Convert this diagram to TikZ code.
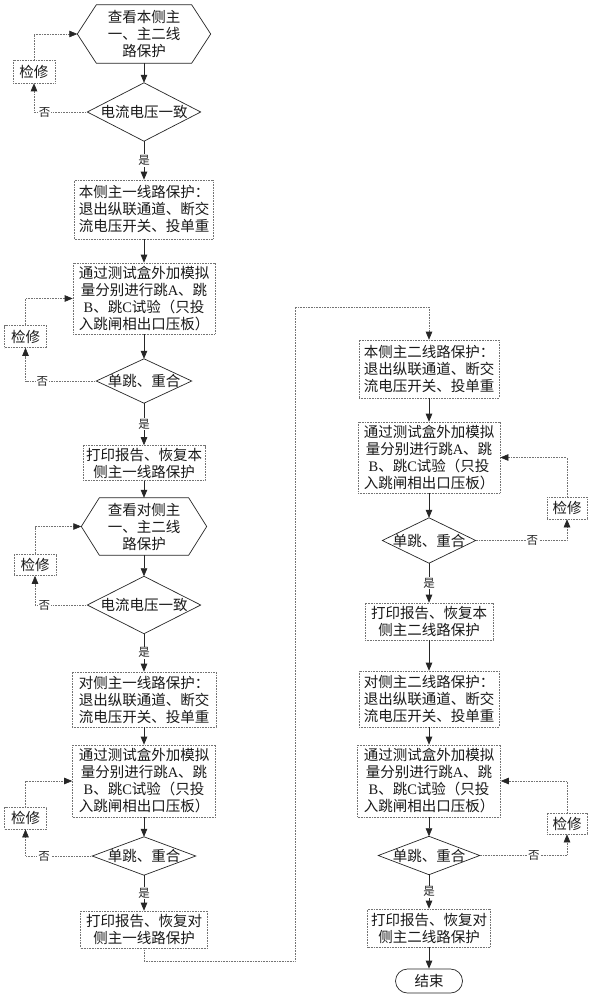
\documentclass[tikz,border=0pt]{standalone}
\usepackage{fontspec}
\setmainfont{Noto Sans CJK SC}
\newfontfamily\lat{Liberation Serif}
\usetikzlibrary{arrows.meta}
\begin{document}
\begin{tikzpicture}[x=1pt,y=-1pt,
  txt/.style={font=\fontsize{14.5pt}{17pt}\selectfont, align=center, inner sep=0pt, text=black!90},
  pbox/.style={txt, draw=black!55, line width=0.6pt, dash pattern=on 0.8pt off 0.8pt},
  shp/.style={txt},
  shapeline/.style={draw=black!85, line width=0.7pt},
  arr/.style={-{Triangle[length=8pt,width=6.5pt]}, black!85, line width=0.7pt},
  loopl/.style={black!55, line width=0.6pt, dash pattern=on 0.8pt off 0.8pt},
  loopa/.style={loopl, -{Triangle[length=8pt,width=6.5pt,color=black!85,fill=black!85]}},
  lab/.style={font=\fontsize{11.5pt}{12pt}\selectfont, fill=white, inner sep=1pt, text=black!85}
]
\useasboundingbox (0,0) rectangle (593,1000);
\fill[white] (0,0) rectangle (593,1000);

% ---------- left column ----------
\node[shp, minimum width=133pt, minimum height=58pt] (h1) at (144,34) {查看本侧主\\一、主二线\\路保护};
\draw[shapeline] (h1.west) -- ([xshift=19pt]h1.north west) -- ([xshift=-19pt]h1.north east) -- (h1.east) -- ([xshift=-19pt]h1.south east) -- ([xshift=19pt]h1.south west) -- cycle;
\node[shp, minimum width=113pt, minimum height=58pt] (d1) at (144,112) {电流电压一致};
\draw[shapeline] (d1.north) -- (d1.east) -- (d1.south) -- (d1.west) -- cycle;
\node[pbox, minimum width=42pt, minimum height=23pt] (j1) at (34,71.5) {检修};
\node[pbox, minimum width=139pt, minimum height=59pt] (b2) at (144,209.5) {本侧主一线路保护：\\退出纵联通道、断交\\流电压开关、投单重};
\node[pbox, minimum width=142pt, minimum height=71pt] (b3) at (144,298.5) {通过测试盒外加模拟\\量分别进行跳{\lat A}、跳\\{\lat B}、跳{\lat C}试验（只投\\入跳闸相出口压板）};
\node[shp, minimum width=95pt, minimum height=44pt] (d2) at (144,381) {单跳、重合};
\draw[shapeline] (d2.north) -- (d2.east) -- (d2.south) -- (d2.west) -- cycle;
\node[pbox, minimum width=42pt, minimum height=22pt] (j2) at (25.5,336.5) {检修};
\node[pbox, minimum width=122pt, minimum height=35pt] (b4) at (144,463) {打印报告、恢复本\\侧主一线路保护};
\node[shp, minimum width=125pt, minimum height=57pt] (h2) at (144,526.5) {查看对侧主\\一、主二线\\路保护};
\draw[shapeline] (h2.west) -- ([xshift=18pt]h2.north west) -- ([xshift=-18pt]h2.north east) -- (h2.east) -- ([xshift=-18pt]h2.south east) -- ([xshift=18pt]h2.south west) -- cycle;
\node[shp, minimum width=113pt, minimum height=57pt] (d3) at (144,605) {电流电压一致};
\draw[shapeline] (d3.north) -- (d3.east) -- (d3.south) -- (d3.west) -- cycle;
\node[pbox, minimum width=42pt, minimum height=21pt] (j3) at (35,565) {检修};
\node[pbox, minimum width=144pt, minimum height=55pt] (b5) at (144,699.5) {对侧主一线路保护：\\退出纵联通道、断交\\流电压开关、投单重};
\node[pbox, minimum width=143pt, minimum height=72pt] (b6) at (144,781) {通过测试盒外加模拟\\量分别进行跳{\lat A}、跳\\{\lat B}、跳{\lat C}试验（只投\\入跳闸相出口压板）};
\node[shp, minimum width=103pt, minimum height=38pt] (d4) at (144,856) {单跳、重合};
\draw[shapeline] (d4.north) -- (d4.east) -- (d4.south) -- (d4.west) -- cycle;
\node[pbox, minimum width=42pt, minimum height=22pt] (j4) at (25.5,818) {检修};
\node[pbox, minimum width=127pt, minimum height=37pt] (b7) at (144,929.5) {打印报告、恢复对\\侧主一线路保护};

% ---------- right column ----------
\node[pbox, minimum width=140pt, minimum height=58pt] (r1) at (429,369) {本侧主二线路保护：\\退出纵联通道、断交\\流电压开关、投单重};
\node[pbox, minimum width=142pt, minimum height=71pt] (r2) at (429,457.5) {通过测试盒外加模拟\\量分别进行跳{\lat A}、跳\\{\lat B}、跳{\lat C}试验（只投\\入跳闸相出口压板）};
\node[shp, minimum width=93pt, minimum height=45pt] (dr1) at (429,540.5) {单跳、重合};
\draw[shapeline] (dr1.north) -- (dr1.east) -- (dr1.south) -- (dr1.west) -- cycle;
\node[pbox, minimum width=40pt, minimum height=22pt] (jr1) at (567,508) {检修};
\node[pbox, minimum width=128pt, minimum height=37pt] (r3) at (429,621.5) {打印报告、恢复本\\侧主二线路保护};
\node[pbox, minimum width=140pt, minimum height=56pt] (r4) at (429,699) {对侧主二线路保护：\\退出纵联通道、断交\\流电压开关、投单重};
\node[pbox, minimum width=143pt, minimum height=72pt] (r5) at (429,781) {通过测试盒外加模拟\\量分别进行跳{\lat A}、跳\\{\lat B}、跳{\lat C}试验（只投\\入跳闸相出口压板）};
\node[shp, minimum width=101pt, minimum height=38pt] (dr2) at (429,855.5) {单跳、重合};
\draw[shapeline] (dr2.north) -- (dr2.east) -- (dr2.south) -- (dr2.west) -- cycle;
\node[pbox, minimum width=40pt, minimum height=21pt] (jr2) at (567,823.5) {检修};
\node[pbox, minimum width=123pt, minimum height=38pt] (r6) at (429,928) {打印报告、恢复对\\侧主二线路保护};
\node[txt, draw=black!85, line width=0.7pt, rounded corners=12pt, minimum width=67pt, minimum height=24pt] (e) at (429,981) {结束};

\coordinate (ta) at (295,961);
\coordinate (tb) at (295,307);

% ---------- main arrows ----------
\draw[arr] (h1.south) -- (d1.north);
\draw[arr] (d1.south) -- node[lab]{是} (b2.north);
\draw[arr] (b2.south) -- (b3.north);
\draw[arr] (b3.south) -- (d2.north);
\draw[arr] (d2.south) -- node[lab]{是} (b4.north);
\draw[arr] (b4.south) -- (h2.north);
\draw[arr] (h2.south) -- (d3.north);
\draw[arr] (d3.south) -- node[lab]{是} (b5.north);
\draw[arr] (b5.south) -- (b6.north);
\draw[arr] (b6.south) -- (d4.north);
\draw[arr] (d4.south) -- node[lab]{是} (b7.north);
\draw[loopa] (b7.south) |- (ta) -- (tb) -| (r1.north);
\draw[arr] (r1.south) -- (r2.north);
\draw[arr] (r2.south) -- (dr1.north);
\draw[arr] (dr1.south) -- node[lab]{是} (r3.north);
\draw[arr] (r3.south) -- (r4.north);
\draw[arr] (r4.south) -- (r5.north);
\draw[arr] (r5.south) -- (dr2.north);
\draw[arr] (dr2.south) -- node[lab]{是} (r6.north);
\draw[arr] (r6.south) -- (e.north);

% ---------- loops ----------
\draw[loopa] (d1.west) -| node[lab,pos=0.4]{否} (j1.south);
\draw[loopa] (j1.north) |- (h1.west);
\draw[loopa] (d2.west) -| node[lab,pos=0.38]{否} (j2.south);
\draw[loopa] (j2.north) |- (b3.west);
\draw[loopa] (d3.west) -| node[lab,pos=0.41]{否} (j3.south);
\draw[loopa] (j3.north) |- (h2.west);
\draw[loopa] (d4.west) -| node[lab,pos=0.36]{否} (j4.south);
\draw[loopa] (j4.north) |- (b6.west);
\draw[loopa] (dr1.east) -| node[lab,pos=0.31]{否} (jr1.south);
\draw[loopa] (jr1.north) |- (r2.east);
\draw[loopa] (dr2.east) -| node[lab,pos=0.31]{否} (jr2.south);
\draw[loopa] (jr2.north) |- (r5.east);
\end{tikzpicture}
\end{document}
